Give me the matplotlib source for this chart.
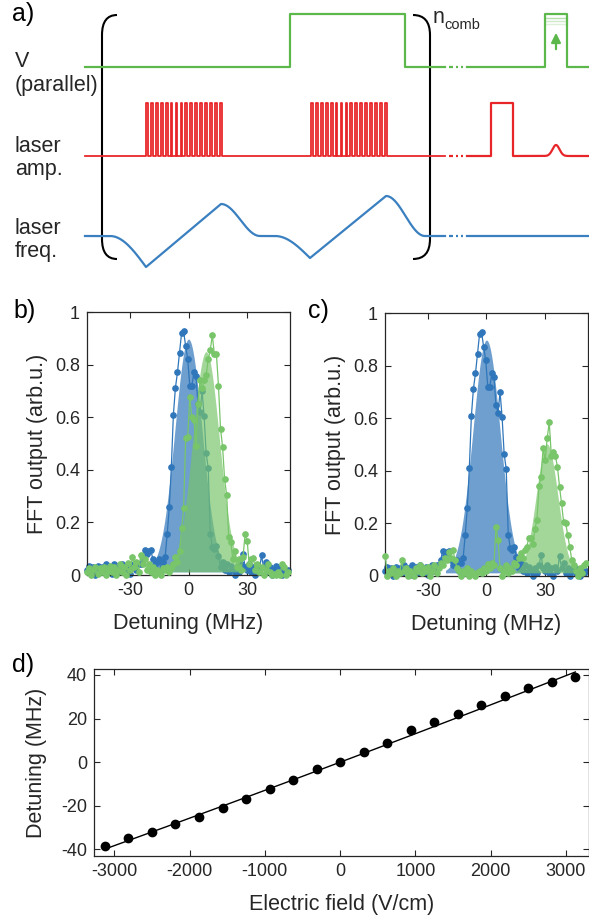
import numpy as np
import matplotlib
matplotlib.use("Agg")
import matplotlib.pyplot as plt
from matplotlib.path import Path
from matplotlib.patches import PathPatch, FancyArrowPatch

plt.rcParams['font.family'] = ['Liberation Sans', 'DejaVu Sans']
plt.rcParams['axes.unicode_minus'] = False

# ---------------- data ----------------
# FFT spectra (panels b, c) on the FFT detuning grid
freq_start = -51.85
freq_step = 1.05
blue_fft = [0.02, 0.035, 0.01, 0.03, 0.0, 0.035, 0.02, 0.03, 0.01, 0.04,
            0.025, 0.03, 0.005, 0.04, 0.02, 0.035, 0.01, 0.04, 0.025, 0.015,
            0.035, 0.005, 0.03, 0.04, 0.02, 0.04, 0.04, 0.06, 0.095, 0.08,
            0.09, 0.095, 0.06, 0.04, 0.05, 0.06, 0.02, 0.05, 0.07, 0.156,
            0.257, 0.41, 0.608, 0.712, 0.77, 0.846, 0.92, 0.926, 0.87, 0.82,
            0.72, 0.72, 0.77, 0.757, 0.65, 0.62, 0.70, 0.603, 0.463, 0.407,
            0.156, 0.107, 0.098, 0.11, 0.073, 0.03, 0.05, 0.02, 0.04, 0.01,
            0.035, 0.02, 0.0, 0.03, 0.01, 0.04, 0.08, 0.03, 0.02, 0.04,
            0.01, 0.03, 0.0, 0.035, 0.02, 0.075, 0.03, 0.05, 0.01, 0.03,
            0.0, 0.02, 0.035, 0.01, 0.025, 0.0, 0.02, 0.01, 0.02]
green_fft_b = [0.01, 0.025, 0.0, 0.02, 0.03, 0.005, 0.025, 0.01, 0.03, 0.0,
               0.02, 0.035, 0.01, 0.03, 0.0, 0.02, 0.04, 0.01, 0.03, 0.0,
               0.045, 0.02, 0.07, 0.03, 0.05, 0.01, 0.075, 0.04, 0.06, 0.02,
               0.04, 0.01, 0.03, 0.0, 0.02, 0.01, 0.0, 0.025, 0.02, 0.03,
               0.01, 0.025, 0.04, 0.07, 0.05, 0.09, 0.177, 0.253, 0.52, 0.525,
               0.675, 0.60, 0.59, 0.49, 0.65, 0.74, 0.71, 0.74, 0.76, 0.82,
               0.855, 0.912, 0.84, 0.84, 0.72, 0.557, 0.488, 0.364, 0.304, 0.146,
               0.127, 0.06, 0.09, 0.03, 0.06, 0.02, 0.07, 0.156, 0.13, 0.04,
               0.06, 0.065, 0.02, 0.04, 0.01, 0.03, 0.0, 0.02, 0.04, 0.01,
               0.0, 0.005, 0.0, 0.01, 0.0, 0.04, 0.03, 0.0, 0.01]
green_fft_c = [0.076, 0.0, 0.02, 0.01, 0.03, 0.0, 0.02, 0.01, 0.06, 0.02,
               0.03, 0.0, 0.02, 0.01, 0.0, 0.03, 0.02, 0.04, 0.01, 0.03,
               0.02, 0.035, 0.0, 0.02, 0.04, 0.01, 0.03, 0.05, 0.04, 0.07,
               0.06, 0.09, 0.07, 0.1, 0.06, 0.03, 0.02, 0.0, 0.02, 0.01,
               0.03, 0.0, 0.02, 0.01, 0.0, 0.015, 0.02, 0.01, 0.03, 0.02,
               0.045, 0.03, 0.05, 0.04, 0.188, 0.137, 0.03, 0.0, 0.02, 0.04,
               0.01, 0.03, 0.02, 0.05, 0.04, 0.07, 0.086, 0.07, 0.1, 0.11,
               0.143, 0.143, 0.12, 0.18, 0.213, 0.343, 0.378, 0.486, 0.441, 0.524,
               0.585, 0.458, 0.473, 0.455, 0.416, 0.34, 0.276, 0.206, 0.202, 0.155,
               0.11, 0.06, 0.04, 0.02, 0.0, 0.03, 0.01, 0.04, 0.05]
# Gaussian fits: (amplitude, centre MHz, sigma MHz, offset)
fit_blue = (0.885, 0.0, 7.0, 0.012)
fit_green_b = (0.837, 9.0, 6.8, 0.012)
fit_green_c = (0.49, 31.0, 5.5, 0.012)

# panel d
field = [-3125, -2812, -2500, -2188, -1875, -1562, -1250, -938, -625, -312, 0,
         312, 625, 938, 1250, 1562, 1875, 2188, 2500, 2812, 3125]
detuning = [-38.2, -34.8, -31.9, -28.4, -25.1, -20.8, -16.9, -12.4, -8.1, -3.2, 0.3,
            4.9, 9.0, 14.7, 18.5, 22.2, 26.2, 30.3, 33.9, 36.9, 39.1]
fit_poly = [7.9e-8, 0.01299, 0.0]   # quadratic fit coefficients

# panel a schematic (timing in drawing units)
v_base, v_high = 67, 14
v_high_win = [290, 405]
v_probe_win = [545, 567]
amp_base, amp_high = 156, 103
train_starts = [146, 311]
n_pulses = 16
pulse_period, pulse_width = 4.93, 1.8
amp_probe_win = [491, 513]
bump_center, bump_height, bump_sigma = 556, 11, 3.5
f_base = 236
freq_cycles = [(110, 146, 267, 221, 204, 260), (275, 310, 258, 386, 196, 425)]
t_start, t_break, t_resume, t_end = 85, 445, 467, 589

# ---------------- style ----------------
W, H = 589, 921
fig = plt.figure(figsize=(W / 100, H / 100), dpi=100)
TXT = '#262626'
BLUE = '#3076ba'
GREEN = '#78c56a'
LGREEN = '#5cb84a'
RED = '#e8262a'
LBLUE = '#3a80c0'

def fx(x):
    return x / W

def fy(y):
    return 1 - y / H

# ---------------- panel a ----------------
axa = fig.add_axes([0, 1 - 280 / H, 1, 280 / H])
axa.set_xlim(0, W)
axa.set_ylim(280, 0)
axa.axis('off')
lw_a = 1.6

def broken(ax, y, color):
    ax.plot([t_break + 4, t_break + 8], [y, y], color=color, lw=lw_a, solid_capstyle='butt')
    ax.plot([t_break + 11, t_break + 13], [y, y], color=color, lw=lw_a, solid_capstyle='butt')
    ax.plot([t_break + 16, t_break + 18], [y, y], color=color, lw=lw_a, solid_capstyle='butt')

# V (parallel)
axa.plot([t_start, v_high_win[0], v_high_win[0], v_high_win[1], v_high_win[1], t_break],
         [v_base, v_base, v_high, v_high, v_base, v_base], color=LGREEN, lw=lw_a)
broken(axa, v_base, LGREEN)
axa.plot([t_resume, v_probe_win[0], v_probe_win[0], v_probe_win[1], v_probe_win[1], t_end],
         [v_base, v_base, v_high, v_high, v_base, v_base], color=LGREEN, lw=lw_a)
for dy, al in zip([4, 7, 10], [0.45, 0.3, 0.2]):
    axa.plot(v_probe_win, [v_high + dy] * 2, color=LGREEN, lw=1.0, alpha=al)
axa.add_patch(FancyArrowPatch((556, 52), (556, 30), arrowstyle='-|>', mutation_scale=14,
                              color=LGREEN, lw=1.6))

# laser amplitude
xs, ys = [t_start], [amp_base]
for s in train_starts:
    for i in range(n_pulses):
        a = s + i * pulse_period
        xs += [a, a, a + pulse_width, a + pulse_width]
        ys += [amp_base, amp_high, amp_high, amp_base]
xs.append(t_break)
ys.append(amp_base)
axa.plot(xs, ys, color=RED, lw=1.3)
broken(axa, amp_base, RED)
tb = np.linspace(amp_probe_win[1], t_end, 300)
yb = amp_base - bump_height * np.exp(-0.5 * ((tb - bump_center) / bump_sigma) ** 2)
axa.plot(np.r_[t_resume, amp_probe_win[0], amp_probe_win[0], amp_probe_win[1], tb],
         np.r_[amp_base, amp_base, amp_high, amp_high, yb], color=RED, lw=lw_a)

# laser frequency
fxs, fys = [t_start], [f_base]
for (t0, tmin, ymin, tpk, ypk, t1) in freq_cycles:
    s = np.linspace(0, 1, 60)
    fxs += list(t0 + (tmin - t0) * s)
    fys += list(f_base + (ymin - f_base) * (1 - np.cos(np.pi / 2 * s)))
    fxs += [tpk]
    fys += [ypk]
    fxs += list(tpk + (t1 - tpk) * s)
    fys += list(ypk + (f_base - ypk) * (1 - np.cos(np.pi * s)) / 2)
fxs.append(t_break)
fys.append(f_base)
axa.plot(fxs, fys, color=LBLUE, lw=lw_a)
broken(axa, f_base, LBLUE)
axa.plot([t_resume, t_end], [f_base, f_base], color=LBLUE, lw=lw_a)

# brackets
C3 = Path.CURVE3
left = Path([(117, 15), (102, 15), (102, 35), (102, 239), (102, 259), (117, 259)],
            [Path.MOVETO, C3, C3, Path.LINETO, C3, C3])
right = Path([(413, 15), (430, 15), (430, 35), (430, 239), (430, 259), (413, 259)],
             [Path.MOVETO, C3, C3, Path.LINETO, C3, C3])
for p in (left, right):
    axa.add_patch(PathPatch(p, fill=False, edgecolor='black', lw=1.5))

axa.text(433, 23, 'n', fontsize=15.5, color=TXT, va='baseline', ha='left')
axa.text(444, 29, 'comb', fontsize=10.5, color=TXT, va='baseline', ha='left')
lab_kw = dict(fontsize=15.5, color=TXT, va='baseline', ha='left')
axa.text(15, 67, 'V', **lab_kw)
axa.text(15, 91, '(parallel)', **lab_kw)
axa.text(15, 152, 'laser', **lab_kw)
axa.text(15, 175, 'amp.', **lab_kw)
axa.text(15, 234, 'laser', **lab_kw)
axa.text(15, 257, 'freq.', **lab_kw)

# ---------------- panels b, c ----------------
det = freq_start + freq_step * np.arange(len(blue_fft))

def style(ax):
    for sp in ax.spines.values():
        sp.set_color(TXT)
        sp.set_linewidth(0.9)
    ax.tick_params(direction='in', length=4, width=0.8, top=True, right=True,
                   colors=TXT, labelsize=13, pad=5)

def gauss_fill(ax, params, color, alpha, z):
    a, c, s, o = params
    xg = np.linspace(c - 3 * s, c + 3 * s, 300)
    yg = o + a * np.exp(-0.5 * ((xg - c) / s) ** 2)
    ax.fill_between(xg, o, yg, color=color, alpha=alpha, lw=0, zorder=z)

def spectrum(ax, green_vals, green_fit):
    gauss_fill(ax, fit_blue, BLUE, 0.7, 1)
    ax.plot(det, blue_fft, '-o', color=BLUE, lw=0.9, ms=3.8, zorder=2, clip_on=False)
    gauss_fill(ax, green_fit, GREEN, 0.68, 3)
    ax.plot(det, green_vals, '-o', color=GREEN, lw=0.9, ms=3.8, zorder=4, clip_on=False)
    ax.set_xlim(-52, 52)
    ax.set_ylim(0, 1)
    ax.set_xticks([-30, 0, 30])
    ax.set_yticks([0, 0.2, 0.4, 0.6, 0.8, 1])
    ax.set_yticklabels(['0', '0.2', '0.4', '0.6', '0.8', '1'])
    ax.set_xlabel('Detuning (MHz)', fontsize=15.5, color=TXT, labelpad=10)
    ax.set_ylabel('FFT output (arb.u.)', fontsize=15.5, color=TXT, labelpad=5)
    style(ax)

axb = fig.add_axes([fx(87), fy(575), 203 / W, 263 / H])
spectrum(axb, green_fft_b, fit_green_b)
axc = fig.add_axes([fx(385), fy(576), 203 / W, 263 / H])
spectrum(axc, green_fft_c, fit_green_c)

# ---------------- panel d ----------------
axd = fig.add_axes([fx(94), fy(856), (588.5 - 94) / W, (856 - 669.3) / H])
xf = np.linspace(field[0], field[-1], 200)
axd.plot(xf, np.polyval(fit_poly, xf), color='black', lw=1.0, zorder=2)
axd.plot(field, detuning, 'o', color='black', ms=6, zorder=3)
axd.set_xlim(-3270, 3300)
axd.set_ylim(-43, 42.6)
axd.set_xticks([-3000, -2000, -1000, 0, 1000, 2000, 3000])
axd.set_yticks([-40, -20, 0, 20, 40])
axd.set_xlabel('Electric field (V/cm)', fontsize=15.5, color=TXT, labelpad=10)
axd.set_ylabel('Detuning (MHz)', fontsize=15.5, color=TXT, labelpad=10)
style(axd)

# panel letters
for s, x, y in [('a)', 12, 21), ('b)', 13, 318), ('c)', 308, 318), ('d)', 12, 672)]:
    fig.text(fx(x), fy(y), s, fontsize=18, color='black', va='baseline', ha='left')

fig.savefig('out.png', dpi=100)
